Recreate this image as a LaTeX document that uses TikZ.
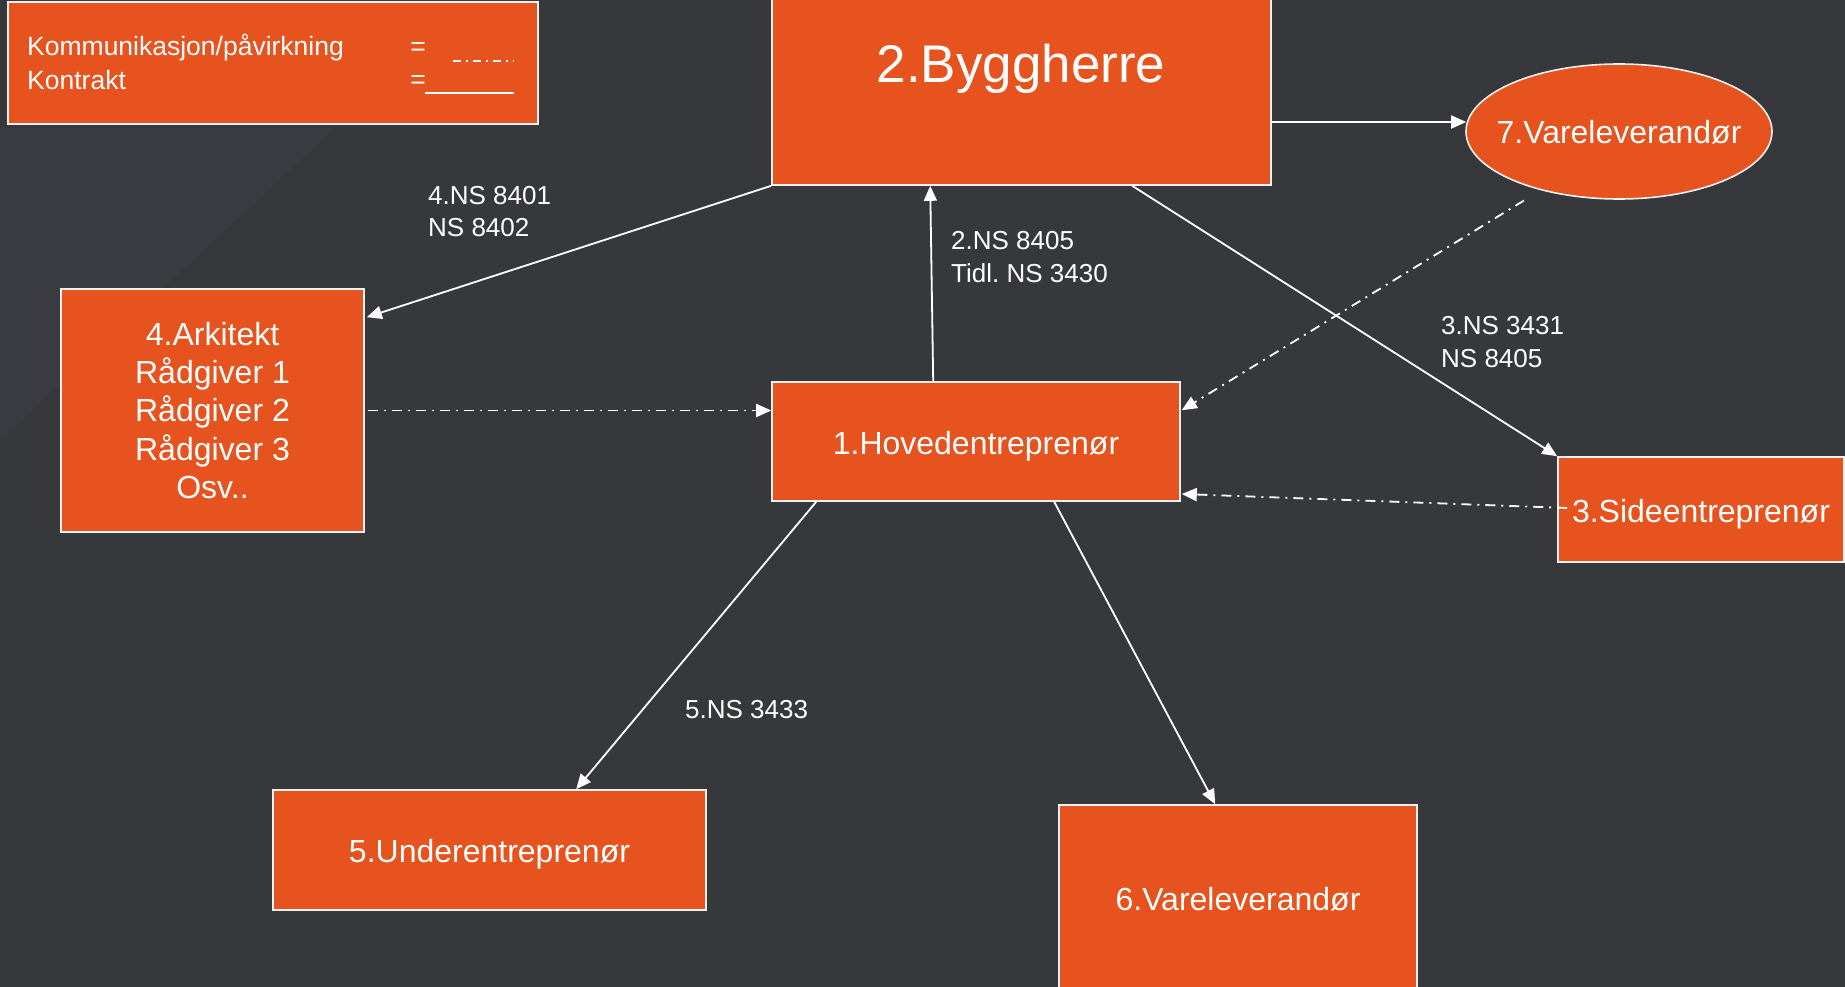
\documentclass[tikz,border=0pt]{standalone}
\usepackage{fontspec}
\setmainfont{Liberation Sans}
\usetikzlibrary{arrows.meta,calc,shapes.geometric}
\frenchspacing

\definecolor{bgdark}{HTML}{37383C}
\definecolor{bgsoft}{HTML}{3A3B40}
\definecolor{boxorange}{HTML}{E6531E}
\definecolor{rim}{HTML}{F2F2F2}

\tikzset{
  party/.style={draw=rim, line width=1.6pt, fill=boxorange, text=white,
    inner sep=0pt, align=center, font=\fontsize{32}{38.2}\selectfont},
  oneline/.style={text height=25pt, text depth=0pt},
  contract/.style={draw=white, line width=1.8pt,
    -{Triangle[length=15pt,width=13pt]}},
  influence/.style={draw=white, line width=1.8pt,
    dash pattern=on 10pt off 6pt on 2pt off 6pt,
    -{Triangle[length=15pt,width=13pt]}},
  stdref/.style={text=white, align=left, inner sep=0pt,
    font=\fontsize{26}{32.5}\selectfont},
  keytext/.style={text=white, inner sep=0pt,
    font=\fontsize{26.5}{32}\selectfont}
}

\begin{document}
\begin{tikzpicture}[x=1pt,y=-1pt]
  % canvas
  \fill[bgdark] (0,0) rectangle (1845,987);
  \fill[bgsoft] (0,128) -- (335,128) -- (0,440) -- cycle;
  \useasboundingbox (0,0) rectangle (1845,987);

  % legend
  \node[party, minimum width=530pt, minimum height=122pt] (legend) at (273,63) {};
  \node[keytext, anchor=west] (kcomm) at (27,48) {Kommunikasjon/påvirkning};
  \node[keytext, anchor=west] (kcon) at (27,80) {Kontrakt};
  \node[keytext] (eqa) at (418,49) {=};
  \node[keytext] (eqb) at (418,82) {=};
  \coordinate (dda) at (453,61);
  \coordinate (ddb) at (514,61);
  \coordinate (sla) at (425,93);
  \coordinate (slb) at (514,93);
  \draw[white, line width=1.6pt, dash pattern=on 8pt off 5pt on 2pt off 5pt] (dda) -- (ddb);
  \draw[white, line width=1.6pt] (sla) -- (slb);

  % parties
  \node[party, minimum width=499pt, minimum height=187pt] (byg) at (1021.5,91.5) {};
  \node[text=white, inner sep=0pt, font=\fontsize{53}{60}\selectfont] (bygtext) at (1021,69) {2.Byggherre};

  \node[party, oneline, ellipse, minimum width=306pt, minimum height=135pt] (vare7) at (1619,131.5)
    {\makebox[0pt]{7.Vareleverandør}};

  \node[party, minimum width=303pt, minimum height=243pt] (ark) at (212.5,410.5)
    {4.Arkitekt\\Rådgiver 1\\Rådgiver 2\\Rådgiver 3\\Osv..};

  \node[party, oneline, minimum width=408pt, minimum height=119pt] (hoved) at (976,441.5) {1.Hovedentreprenør};

  \node[party, oneline, minimum width=286pt, minimum height=105pt] (side) at (1701,509.5) {3.Sideentreprenør};

  \node[party, oneline, minimum width=433pt, minimum height=120pt] (under) at (489.5,850) {5.Underentreprenør};

  \node[party, oneline, minimum width=358pt, minimum height=185pt] (vare6) at (1238,897.5) {6.Vareleverandør};

  % contracts
  \draw[contract] ($(byg.east)+(0,30.5)$) -- ($(vare7.west)+(1,-9.5)$);
  \draw[contract] (byg.south west) -- ($(ark.north east)+(2,29)$);
  \draw[contract] ($(hoved.north west)+(162,0)$) -- ($(byg.south west)+(159,0)$);
  \draw[contract] ($(byg.south west)+(361,0)$) -- (side.north west);
  \draw[contract] ($(hoved.south west)+(45,0)$) -- ($(under.north west)+(304,0)$);
  \draw[contract] ($(hoved.south west)+(283,0)$) -- ($(vare6.north west)+(157,0)$);

  % communication / influence
  \draw[influence] ($(vare7.center)+(-95,69)$) -- ($(hoved.north east)+(1,29)$);
  \draw[influence] ($(ark.east)+(3,0)$) -- (hoved.west |- ark.east);
  \draw[influence] ($(side.west)+(10,-1.5)$) -- ($(hoved.east)+(1,52.5)$);

  % standard references
  \node[stdref, anchor=west] (ref4) at (428,211.5) {4.NS 8401\\NS 8402};
  \node[stdref, anchor=west] (ref2) at (951,257) {2.NS 8405\\Tidl. NS 3430};
  \node[stdref, anchor=west] (ref3) at (1441,342) {3.NS 3431\\NS 8405};
  \node[stdref, anchor=west] (ref5) at (685,710) {5.NS 3433};
\end{tikzpicture}
\end{document}
